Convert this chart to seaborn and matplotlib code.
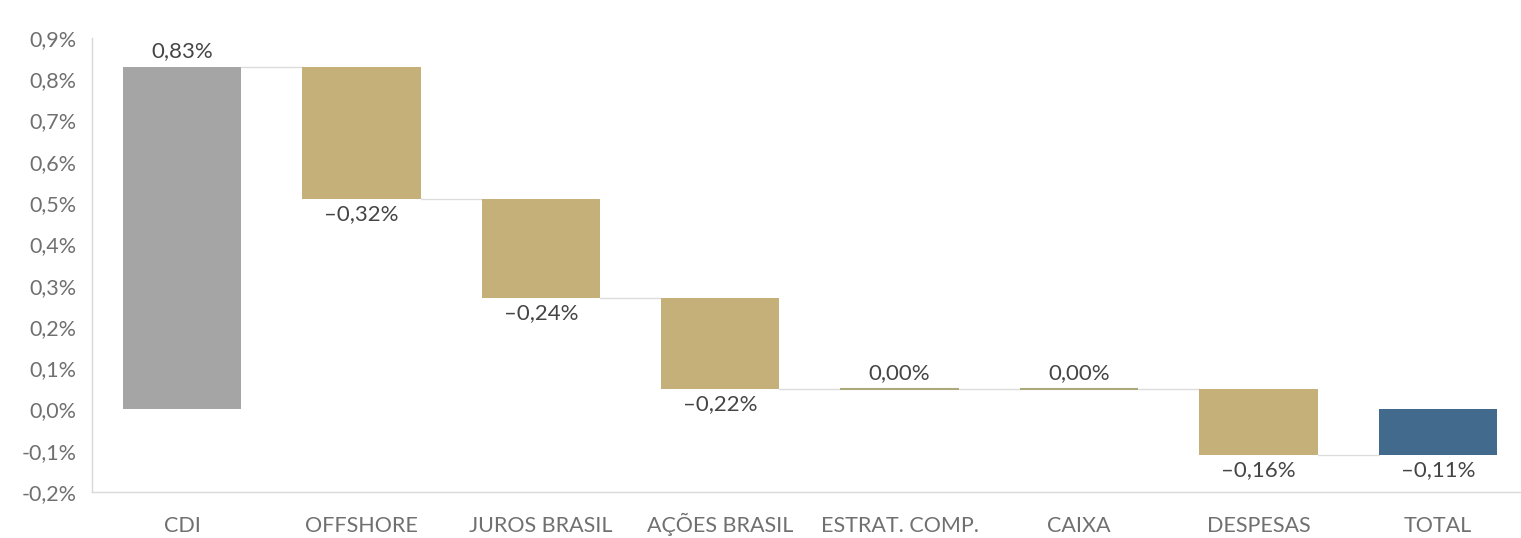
import matplotlib
matplotlib.use("Agg")
import matplotlib.pyplot as plt
import seaborn as sns
import numpy as np

categories = ["CDI", "OFFSHORE", "JUROS BRASIL", "AÇÕES BRASIL", "ESTRAT. COMP.", "CAIXA", "DESPESAS", "TOTAL"]
values = [0.83, -0.32, -0.24, -0.22, 0.00, 0.00, -0.16, -0.11]
kinds = ["start", "delta", "delta", "delta", "delta", "delta", "delta", "total"]
yticks = [-0.2, -0.1, 0.0, 0.1, 0.2, 0.3, 0.4, 0.5, 0.6, 0.7, 0.8, 0.9]

col_start = "#a5a5a5"
col_delta = "#c6b07a"
col_zero = "#a9a97a"
col_total = "#426a8c"

# waterfall geometry from values
bottoms, heights, ends = [], [], []
cum = 0.0
for v, k in zip(values, kinds):
    if k in ("start", "total"):
        bottoms.append(0.0); heights.append(v); cum = v
    else:
        bottoms.append(cum); heights.append(v); cum = cum + v
    ends.append(cum)

sns.set_theme(style="white")
plt.rcParams["font.family"] = ["Lato", "DejaVu Sans"]

fig = plt.figure(figsize=(15.21, 5.38), dpi=100)
ax = fig.add_axes([92 / 1521, 1 - 492 / 538, 1 - 92 / 1521, (492 - 38) / 538])

width = 0.66
sns.barplot(x=categories, y=heights, bottom=bottoms, color=col_delta, width=width,
            ax=ax, linewidth=0, saturation=1)

for i, p in enumerate(ax.patches):
    if kinds[i] == "start":
        p.set_facecolor(col_start)
    elif kinds[i] == "total":
        p.set_facecolor(col_total)
    elif values[i] == 0:
        p.set_facecolor(col_zero)
        p.set_edgecolor(col_zero)
        p.set_linewidth(1.5)
    else:
        p.set_facecolor(col_delta)

# connectors
for i in range(len(categories) - 1):
    level = ends[i]
    ax.plot([i + width / 2, i + 1 - width / 2], [level, level], color="#dcdcdc",
            lw=1.0, zorder=0)

# value labels
for i, v in enumerate(values):
    txt = f"{v:.2f}%".replace(".", ",").replace("-", "\u2013")
    top = max(bottoms[i], bottoms[i] + heights[i])
    bot = min(bottoms[i], bottoms[i] + heights[i])
    if v >= 0:
        ax.text(i, top + 0.014, txt, ha="center", va="bottom", fontsize=16,
                color="#454545")
    else:
        ax.text(i, bot - 0.012, txt, ha="center", va="top", fontsize=16,
                color="#454545")

ax.set_xlim(-0.502, 7.464)
ax.set_ylim(-0.2, 0.9)
ax.set_yticks(yticks)
ax.set_yticklabels([f"{t:.1f}%".replace(".", ",") for t in yticks])
ax.tick_params(axis="y", labelsize=15.5, labelcolor="#707070", length=0, pad=11)
ax.tick_params(axis="x", labelsize=15.5, labelcolor="#707070", length=0, pad=29)
for lab in ax.get_xticklabels():
    lab.set_verticalalignment("baseline")
ax.set_xlabel("")
ax.set_ylabel("")

for s in ["top", "right"]:
    ax.spines[s].set_visible(False)
for s in ["left", "bottom"]:
    ax.spines[s].set_color("#d9d9d9")
    ax.spines[s].set_linewidth(1.0)

fig.savefig("out.png", dpi=100, facecolor="white")
